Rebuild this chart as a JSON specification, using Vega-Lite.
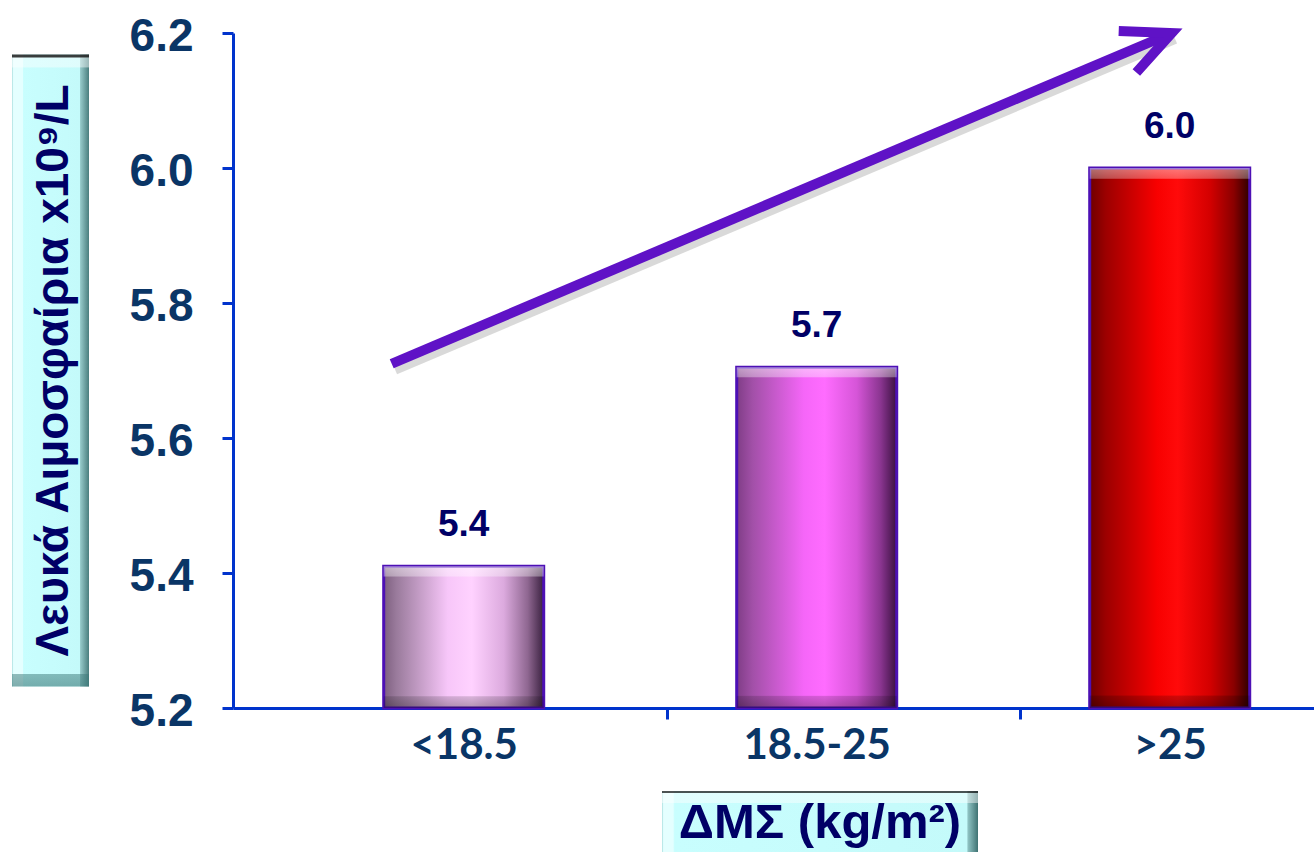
{
  "$schema": "https://vega.github.io/schema/vega-lite/v6.json",
  "background": "white",
  "padding": {"left": 12, "top": 10, "right": 0, "bottom": 0},
  "spacing": 25,
  "config": {"view": {"stroke": null}},
  "datasets": {
    "wbc": [
      {"bmi": "<18.5", "wbc": 5.41},
      {"bmi": "18.5-25", "wbc": 5.705},
      {"bmi": ">25", "wbc": 6.0}
    ],
    "trend": [
      {"bmi": "<18.5", "bmi_end": ">25", "wbc": 5.71, "wbc_end": 6.2}
    ]
  },
  "vconcat": [
    {
      "hconcat": [
        {
          "width": 77,
          "height": 632,
          "data": {"values": [{"title": "Λευκά Αιμοσφαίρια x10⁹/L"}]},
          "layer": [
            {
              "mark": {
                "type": "rect",
                "fill": {
                  "gradient": "linear", "x1": 0, "y1": 0, "x2": 1, "y2": 0,
                  "stops": [
                    {"offset": 0, "color": "#a8dede"},
                    {"offset": 0.02, "color": "#e4ffff"},
                    {"offset": 0.14, "color": "#e4ffff"},
                    {"offset": 0.15, "color": "#c8fefe"},
                    {"offset": 0.88, "color": "#c4fafa"},
                    {"offset": 0.89, "color": "#94c8c8"},
                    {"offset": 1, "color": "#4a7e7e"}
                  ]
                }
              }
            },
            {
              "mark": {
                "type": "rect",
                "fill": {
                  "gradient": "linear", "x1": 0, "y1": 0, "x2": 0, "y2": 1,
                  "stops": [
                    {"offset": 0, "color": "rgba(40,40,40,0.9)"},
                    {"offset": 0.004, "color": "rgba(40,40,40,0.9)"},
                    {"offset": 0.006, "color": "rgba(255,255,255,0.45)"},
                    {"offset": 0.02, "color": "rgba(255,255,255,0.45)"},
                    {"offset": 0.021, "color": "rgba(255,255,255,0)"},
                    {"offset": 0.98, "color": "rgba(0,0,0,0)"},
                    {"offset": 0.981, "color": "rgba(60,120,120,0.5)"},
                    {"offset": 1, "color": "rgba(60,120,120,0.6)"}
                  ]
                }
              }
            },
            {
              "mark": {
                "type": "text", "angle": 270, "dy": 3,
                "font": "Liberation Sans", "fontWeight": "bold", "fontSize": 46,
                "color": "#000066"
              },
              "encoding": {"text": {"field": "title", "type": "nominal"}}
            }
          ]
        },
        {
          "width": 1081,
          "height": 675,
          "data": {"name": "wbc"},
          "encoding": {
            "x": {
              "field": "bmi", "type": "nominal", "title": null,
              "scale": {
                "domain": ["<18.5", "18.5-25", ">25"],
                "paddingInner": 0.5467, "paddingOuter": 0.3045, "align": 0.701
              },
              "axis": {
                "labelAngle": 0,
                "domainColor": "#0033cc", "domainWidth": 3,
                "tickColor": "#0033cc", "tickWidth": 3, "tickSize": 11,
                "tickOpacity": {"condition": {"test": "datum.value !== '18.5-25' && datum.value !== '>25'", "value": 0}, "value": 1},
                "bandPosition": 0, "tickOffset": -70, "labelOffset": 70,
                "labelFont": "Lato", "labelFontWeight": "bold", "labelFontSize": 42,
                "labelColor": "#0a3566", "labelPadding": 6
              }
            },
            "y": {
              "field": "wbc", "type": "quantitative", "title": null,
              "scale": {"domain": [5.2, 6.2], "zero": false, "nice": false},
              "axis": {
                "values": [5.2, 5.4, 5.6, 5.8, 6.0, 6.2], "format": ".1f", "grid": false,
                "domainColor": "#0033cc", "domainWidth": 3,
                "tickColor": "#0033cc", "tickWidth": 3, "tickSize": 11,
                "labelFont": "Liberation Sans", "labelFontWeight": "bold", "labelFontSize": 46,
                "labelColor": "#0a3566", "labelPadding": 29, "labelOffset": 3
              }
            }
          },
          "layer": [
            {
              "transform": [{"filter": "datum.bmi === '<18.5'"}],
              "encoding": {"y2": {"datum": 5.2}},
              "layer": [
                {
                  "mark": {
                    "type": "bar", "opacity": 1, "stroke": "#4d10b5", "strokeWidth": 3,
                    "fill": {
                      "gradient": "linear", "x1": 0, "y1": 0, "x2": 1, "y2": 0,
                      "stops": [
                        {"offset": 0, "color": "#7d5f7f"},
                        {"offset": 0.08, "color": "#9a7b9c"},
                        {"offset": 0.4, "color": "#f7c6f9"},
                        {"offset": 0.55, "color": "#ffd2ff"},
                        {"offset": 0.75, "color": "#dcaade"},
                        {"offset": 0.9, "color": "#8f6791"},
                        {"offset": 1, "color": "#3a2140"}
                      ]
                    }
                  }
                },
                {
                  "mark": {
                    "type": "bar", "opacity": 1,
                    "fill": {
                      "gradient": "linear", "x1": 0, "y1": 0, "x2": 0, "y2": 1,
                      "stops": [
                        {"offset": 0, "color": "rgba(255,255,255,0.5)"},
                        {"offset": 0.07, "color": "rgba(255,255,255,0.35)"},
                        {"offset": 0.075, "color": "rgba(255,255,255,0)"},
                        {"offset": 0.915, "color": "rgba(0,0,0,0)"},
                        {"offset": 0.92, "color": "rgba(0,0,0,0.15)"},
                        {"offset": 1, "color": "rgba(0,0,0,0.3)"}
                      ]
                    }
                  }
                }
              ]
            },
            {
              "transform": [{"filter": "datum.bmi === '18.5-25'"}],
              "encoding": {"y2": {"datum": 5.2}},
              "layer": [
                {
                  "mark": {
                    "type": "bar", "opacity": 1, "stroke": "#4d10b5", "strokeWidth": 3,
                    "fill": {
                      "gradient": "linear", "x1": 0, "y1": 0, "x2": 1, "y2": 0,
                      "stops": [
                        {"offset": 0, "color": "#7f3d86"},
                        {"offset": 0.1, "color": "#a250a8"},
                        {"offset": 0.42, "color": "#f566f8"},
                        {"offset": 0.55, "color": "#ff6cff"},
                        {"offset": 0.75, "color": "#d655d8"},
                        {"offset": 0.9, "color": "#8a3590"},
                        {"offset": 1, "color": "#3a1040"}
                      ]
                    }
                  }
                },
                {
                  "mark": {
                    "type": "bar", "opacity": 1,
                    "fill": {
                      "gradient": "linear", "x1": 0, "y1": 0, "x2": 0, "y2": 1,
                      "stops": [
                        {"offset": 0, "color": "rgba(255,255,255,0.5)"},
                        {"offset": 0.029, "color": "rgba(255,255,255,0.35)"},
                        {"offset": 0.031, "color": "rgba(255,255,255,0)"},
                        {"offset": 0.963, "color": "rgba(0,0,0,0)"},
                        {"offset": 0.965, "color": "rgba(0,0,0,0.15)"},
                        {"offset": 1, "color": "rgba(0,0,0,0.3)"}
                      ]
                    }
                  }
                }
              ]
            },
            {
              "transform": [{"filter": "datum.bmi === '>25'"}],
              "encoding": {"y2": {"datum": 5.2}},
              "layer": [
                {
                  "mark": {
                    "type": "bar", "opacity": 1, "stroke": "#4d10b5", "strokeWidth": 3,
                    "fill": {
                      "gradient": "linear", "x1": 0, "y1": 0, "x2": 1, "y2": 0,
                      "stops": [
                        {"offset": 0, "color": "#6e0000"},
                        {"offset": 0.1, "color": "#9c0000"},
                        {"offset": 0.42, "color": "#f80000"},
                        {"offset": 0.55, "color": "#ff0a0a"},
                        {"offset": 0.75, "color": "#d40000"},
                        {"offset": 0.9, "color": "#8a0000"},
                        {"offset": 1, "color": "#2e0000"}
                      ]
                    }
                  }
                },
                {
                  "mark": {
                    "type": "bar", "opacity": 1,
                    "fill": {
                      "gradient": "linear", "x1": 0, "y1": 0, "x2": 0, "y2": 1,
                      "stops": [
                        {"offset": 0, "color": "rgba(255,255,255,0.45)"},
                        {"offset": 0.019, "color": "rgba(255,255,255,0.3)"},
                        {"offset": 0.021, "color": "rgba(255,255,255,0)"},
                        {"offset": 0.976, "color": "rgba(0,0,0,0)"},
                        {"offset": 0.978, "color": "rgba(0,0,0,0.18)"},
                        {"offset": 1, "color": "rgba(0,0,0,0.35)"}
                      ]
                    }
                  }
                }
              ]
            },
            {
              "mark": {
                "type": "text", "dy": -30, "baseline": "alphabetic",
                "font": "Liberation Sans", "fontWeight": "bold", "fontSize": 37,
                "color": "#000066"
              },
              "encoding": {"text": {"field": "wbc", "type": "quantitative", "format": ".1f"}}
            },
            {
              "data": {"name": "trend"},
              "mark": {
                "type": "rule", "xOffset": -69, "x2Offset": 5, "yOffset": 5, "y2Offset": 5,
                "color": "#000000", "opacity": 0.15, "strokeWidth": 12
              },
              "encoding": {
                "x2": {"field": "bmi_end"},
                "y2": {"field": "wbc_end"}
              }
            },
            {
              "data": {"name": "trend"},
              "mark": {
                "type": "rule", "xOffset": -72, "x2Offset": 2,
                "color": "#5f12c6", "opacity": 1, "strokeWidth": 10
              },
              "encoding": {
                "x2": {"field": "bmi_end"},
                "y2": {"field": "wbc_end"}
              }
            },
            {
              "data": {"name": "trend"},
              "mark": {
                "type": "point", "shape": "M -1 -0.47 L 0 0 L -1 0.47",
                "filled": false, "size": 9216, "angle": 337,
                "strokeWidth": 10, "strokeJoin": "miter",
                "color": "#5f12c6", "opacity": 1, "xOffset": 2
              },
              "encoding": {
                "x": {"field": "bmi_end", "type": "nominal", "title": null},
                "y": {"field": "wbc_end", "type": "quantitative", "title": null}
              }
            }
          ]
        }
      ],
      "spacing": 144,
      "bounds": "flush",
      "center": true
    },
    {
      "hconcat": [
        {
          "width": 650,
          "height": 61,
          "data": {"values": [{"note": ""}]},
          "mark": {"type": "text"},
          "encoding": {"text": {"field": "note", "type": "nominal"}}
        },
        {
          "width": 316,
          "height": 61,
          "data": {"values": [{"title": "ΔΜΣ (kg/m²)"}]},
          "layer": [
            {
              "mark": {
                "type": "rect",
                "fill": {
                  "gradient": "linear", "x1": 0, "y1": 0, "x2": 1, "y2": 0,
                  "stops": [
                    {"offset": 0, "color": "#a8dede"},
                    {"offset": 0.005, "color": "#e4ffff"},
                    {"offset": 0.035, "color": "#e4ffff"},
                    {"offset": 0.04, "color": "#c8fefe"},
                    {"offset": 0.965, "color": "#c4fafa"},
                    {"offset": 0.968, "color": "#8fc3c3"},
                    {"offset": 1, "color": "#3f7272"}
                  ]
                }
              }
            },
            {
              "mark": {
                "type": "rect",
                "fill": {
                  "gradient": "linear", "x1": 0, "y1": 0, "x2": 0, "y2": 1,
                  "stops": [
                    {"offset": 0, "color": "rgba(40,40,40,0.8)"},
                    {"offset": 0.03, "color": "rgba(40,40,40,0.8)"},
                    {"offset": 0.035, "color": "rgba(255,255,255,0.45)"},
                    {"offset": 0.19, "color": "rgba(255,255,255,0.45)"},
                    {"offset": 0.2, "color": "rgba(255,255,255,0)"},
                    {"offset": 1, "color": "rgba(255,255,255,0)"}
                  ]
                }
              }
            },
            {
              "mark": {
                "type": "text", "dy": 1,
                "font": "Liberation Sans", "fontWeight": "bold", "fontSize": 49,
                "color": "#000066"
              },
              "encoding": {"text": {"field": "title", "type": "nominal"}}
            }
          ]
        }
      ],
      "spacing": 0,
      "bounds": "flush"
    }
  ]
}
